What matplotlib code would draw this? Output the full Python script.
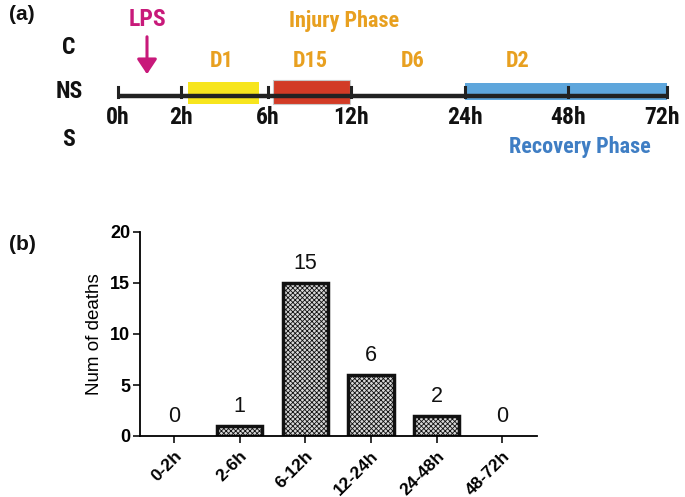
import matplotlib
matplotlib.use("Agg")
import matplotlib.pyplot as plt
from matplotlib.patches import Rectangle, FancyArrowPatch

# ---- data ----
categories = ["0-2h", "2-6h", "6-12h", "12-24h", "24-48h", "48-72h"]
deaths = [0, 1, 15, 6, 2, 0]
time_labels = ["0h", "2h", "6h", "12h", "24h", "48h", "72h"]
phase_labels = ["D1", "D15", "D6", "D2"]
row_labels = ["C", "NS", "S"]

# ---- layout (pixel positions for schematic timeline) ----
tick_x = [118, 181, 268, 351, 465, 568, 667]
line_y = 96

fig = plt.figure(figsize=(6.85, 4.97), dpi=100)

# ---------- panel (a): schematic timeline ----------
axa = fig.add_axes([0, 0, 1, 1])
axa.set_xlim(0, 685)
axa.set_ylim(497, 0)
axa.axis("off")

narrow = ["Roboto Condensed", "Fira Sans Condensed", "DejaVu Sans"]
arial = ["Liberation Sans", "DejaVu Sans"]
orange = "#e8a020"

# boxes behind line
axa.add_patch(Rectangle((188, 82), 71, 22, facecolor="#f7e51d", edgecolor="none", zorder=1))
axa.add_patch(Rectangle((273, 80), 77, 24, facecolor="#d23b26", edgecolor="#c8c8c8", lw=0.8, zorder=1))
axa.add_patch(Rectangle((465, 83), 202, 17, facecolor="#5ea6dc", edgecolor="none", zorder=1))

axa.plot([tick_x[0], tick_x[-1]], [line_y, line_y], color="#222222", lw=3.2, zorder=2, solid_capstyle="butt")
for i, (x, lab) in enumerate(zip(tick_x, time_labels)):
    axa.plot([x, x], [line_y - 9, line_y + 1], color="#222222", lw=2.2, zorder=3)
    tx = x - 5 if i == len(tick_x) - 1 else x
    axa.text(tx, 117, lab, ha="center", va="center", fontsize=17, fontweight="bold",
             family=narrow, color="#111111")

# phase labels centred on their segments
seg_centres = [222, 310, 413, 518]
for x, lab in zip(seg_centres, phase_labels):
    axa.text(x, 61, lab, ha="center", va="center", fontsize=16, fontweight="bold",
             family=narrow, color=orange)

axa.text(344, 21, "Injury Phase", ha="center", va="center", fontsize=16, fontweight="bold",
         family=narrow, color=orange)
axa.text(580, 147, "Recovery Phase", ha="center", va="center", fontsize=16, fontweight="bold",
         family=narrow, color="#3f7ec4")
axa.text(147, 20, "LPS", ha="center", va="center", fontsize=17, fontweight="bold",
         family=narrow, color="#c8197a")
axa.add_patch(FancyArrowPatch((147, 34), (147, 77), arrowstyle="-|>,head_length=6,head_width=4",
                              color="#c8197a", lw=2.2, mutation_scale=1.5))

for y, lab in zip([47, 92, 140], row_labels):
    axa.text(69, y, lab, ha="center", va="center", fontsize=17, fontweight="bold",
             family=narrow, color="#111111")

axa.text(22, 15, "(a)", ha="center", va="center", fontsize=15, fontweight="bold",
         family=arial, color="#111111")
axa.text(22, 244, "(b)", ha="center", va="center", fontsize=15, fontweight="bold",
         family=arial, color="#111111")

# ---------- panel (b): bar chart ----------
ax = fig.add_axes([140 / 685, 1 - 436 / 497, (537 - 140) / 685, (436 - 232) / 497])
plt.rcParams["hatch.color"] = "#555555"
plt.rcParams["hatch.linewidth"] = 0.6
xs = list(range(len(categories)))
bars = ax.bar(xs, deaths, width=0.69, facecolor="#d8d8d8", edgecolor="#111111",
              linewidth=2.5, hatch="xxxxxxx")
for b, v in zip(bars, deaths):
    if v == 0:
        b.set_linewidth(0)
for x, v in zip(xs, deaths):
    ax.text(x, v + 0.85, str(v), ha="center", va="bottom", fontsize=15.5,
            family=arial, color="#111111")

ax.set_xlim(-0.52, 5.53)
ax.set_ylim(0, 20)
ax.set_yticks([0, 5, 10, 15, 20])
ax.set_xticks(xs)
ax.set_xticklabels(categories, rotation=45, ha="right", rotation_mode="anchor",
                   fontsize=12.5, fontweight="bold", family=arial)
ax.set_yticklabels(["0", "5", "10", "15", "20"], fontsize=13, fontweight="bold", family=arial)
ax.spines["top"].set_visible(False)
ax.spines["right"].set_visible(False)
ax.spines["left"].set_linewidth(1.3)
ax.spines["bottom"].set_linewidth(1.3)
ax.tick_params(axis="both", width=1.3, length=5, color="#222222", pad=2)
ax.tick_params(axis="x", pad=4)
ax.set_ylabel("Num of deaths", fontsize=13.5, labelpad=5, family=arial)

fig.savefig("out.png", dpi=100)
